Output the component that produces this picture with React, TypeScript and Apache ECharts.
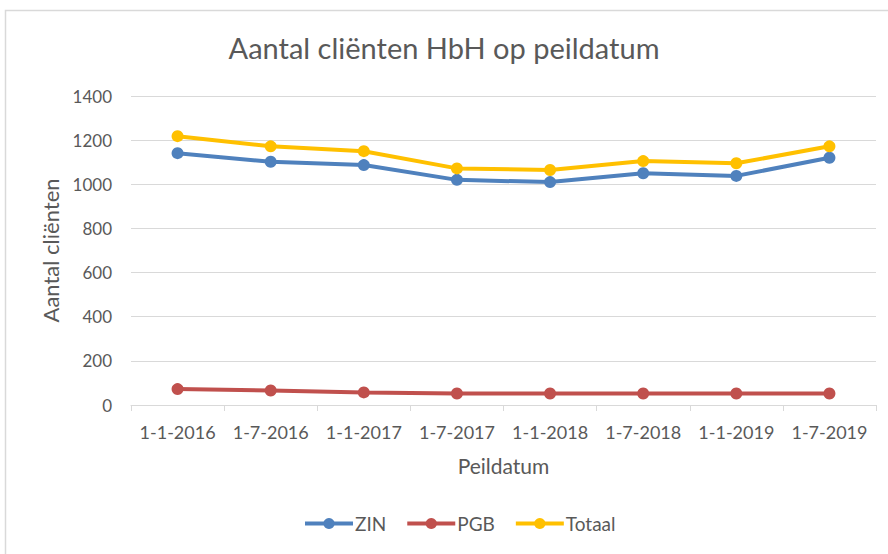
import React, { useEffect, useRef } from "react";
import * as echarts from "echarts";

const categories = ["1-1-2016", "1-7-2016", "1-1-2017", "1-7-2017", "1-1-2018", "1-7-2018", "1-1-2019", "1-7-2019"];
const zin = [1141, 1102, 1087, 1020, 1010, 1050, 1038, 1120];
const pgb = [72, 66, 57, 52, 52, 52, 52, 52];
const totaal = [1218, 1172, 1150, 1072, 1065, 1105, 1095, 1172];
const seriesNames = ["ZIN", "PGB", "Totaal"];
const colors = ["#4F81BD", "#C0504D", "#FFC000"];

const FONT = "Lato";
const TXT = "#595959";

export default function App() {
  const ref = useRef<HTMLDivElement>(null);
  useEffect(() => {
    if (!ref.current) return;
    const chart = echarts.init(ref.current, undefined, { renderer: "svg" });
    const data = [zin, pgb, totaal];
    chart.setOption({
      animation: false,
      backgroundColor: "#ffffff",
      textStyle: { fontFamily: FONT, color: TXT },
      title: {
        text: "Aantal cliënten HbH op peildatum",
        left: "center",
        top: 28,
        textStyle: { fontFamily: FONT, fontSize: 29, fontWeight: "normal", color: TXT },
      },
      graphic: [
        {
          type: "rect",
          shape: { x: 5.5, y: 10.5, width: 900, height: 600 },
          style: { fill: "none", stroke: "#D9D9D9", lineWidth: 1.5 },
          silent: true,
        },
      ],
      legend: {
        bottom: 16,
        left: 298,
        itemWidth: 48,
        itemHeight: 14,
        itemGap: 19,
        data: seriesNames,
        lineStyle: { width: 4 },
        textStyle: { fontFamily: FONT, fontSize: 19, color: TXT, padding: [0, 0, 0, -3] },
      },
      grid: { left: 131, right: 12, top: 96, bottom: 149, containLabel: false },
      xAxis: {
        type: "category",
        data: categories,
        boundaryGap: true,
        name: "Peildatum",
        nameLocation: "middle",
        nameGap: 50,
        nameTextStyle: { fontFamily: FONT, fontSize: 21, color: TXT },
        axisLine: { lineStyle: { color: "#D9D9D9", width: 1 } },
        axisTick: { show: true, length: 6, lineStyle: { color: "#D9D9D9" } },
        axisLabel: { fontFamily: FONT, fontSize: 18, color: TXT, margin: 18, interval: 0 },
      },
      yAxis: {
        type: "value",
        min: 0,
        max: 1400,
        interval: 200,
        name: "Aantal cliënten",
        nameLocation: "middle",
        nameGap: 70,
        nameTextStyle: { fontFamily: FONT, fontSize: 22, color: TXT },
        axisLine: { show: false },
        axisTick: { show: false },
        splitLine: { lineStyle: { color: "#D9D9D9", width: 1 } },
        axisLabel: {
          fontFamily: FONT,
          fontSize: 17,
          color: TXT,
          margin: 19,
          formatter: (v: number) => String(v),
        },
      },
      series: seriesNames.map((name, i) => ({
        name,
        type: "line",
        data: data[i],
        color: colors[i],
        symbol: "circle",
        symbolSize: 12,
        lineStyle: { width: 4, color: colors[i] },
        itemStyle: { color: colors[i] },
      })),
    });
    return () => chart.dispose();
  }, []);
  return <div ref={ref} style={{ position: "fixed", left: 0, top: 0, width: 888, height: 554 }} />;
}
